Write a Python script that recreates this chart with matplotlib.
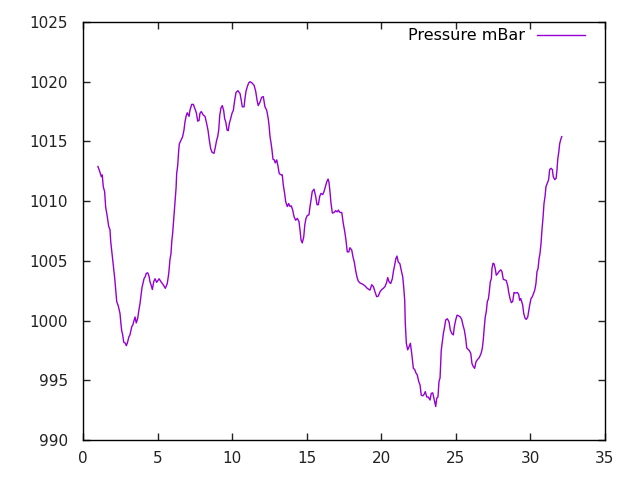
import matplotlib
matplotlib.use("Agg")
import matplotlib.pyplot as plt

# time (days) and pressure (mBar)
days = [1.00, 1.09, 1.23, 1.29, 1.36, 1.45, 1.52, 1.63, 1.72, 1.81, 1.86, 1.92, 1.99,
        2.06, 2.13, 2.19, 2.26, 2.37, 2.48, 2.53, 2.59, 2.66, 2.73, 2.84, 2.90, 2.97,
        3.08, 3.15, 3.27, 3.33, 3.42, 3.49, 3.57, 3.67, 3.75, 3.82, 3.89, 3.96, 4.02,
        4.09, 4.18, 4.24, 4.34, 4.43, 4.49, 4.56, 4.65, 4.74, 4.83, 4.94, 5.10, 5.23,
        5.38, 5.52, 5.65, 5.75, 5.83, 5.90, 5.95, 6.01, 6.10, 6.19, 6.24, 6.28, 6.35,
        6.42, 6.46, 6.57, 6.68, 6.77, 6.84, 6.91, 6.99, 7.11, 7.17, 7.29, 7.40, 7.51,
        7.60, 7.69, 7.78, 7.84, 7.93, 8.07, 8.18, 8.29, 8.38, 8.47, 8.56, 8.65, 8.78,
        8.87, 8.96, 9.03, 9.10, 9.17, 9.25, 9.34, 9.43, 9.50, 9.57, 9.66, 9.74, 9.81,
        9.90, 9.99, 10.08, 10.17, 10.26, 10.39, 10.53, 10.61, 10.68, 10.80, 10.86,
        10.93, 11.02, 11.11, 11.20, 11.33, 11.47, 11.58, 11.67, 11.75, 11.87, 11.98,
        12.09, 12.20, 12.32, 12.42, 12.47, 12.54, 12.61, 12.67, 12.74, 12.83, 12.89,
        12.99, 13.07, 13.16, 13.30, 13.36, 13.43, 13.52, 13.59, 13.70, 13.79, 13.88,
        13.97, 14.06, 14.15, 14.26, 14.37, 14.48, 14.55, 14.62, 14.70, 14.80, 14.87,
        14.95, 15.04, 15.15, 15.22, 15.29, 15.37, 15.49, 15.60, 15.69, 15.78, 15.87,
        15.96, 16.07, 16.16, 16.25, 16.34, 16.43, 16.49, 16.56, 16.63, 16.72, 16.83,
        16.94, 17.05, 17.12, 17.23, 17.35, 17.45, 17.55, 17.63, 17.72, 17.82, 17.90,
        18.02, 18.10, 18.19, 18.28, 18.37, 18.46, 18.57, 18.75, 18.91, 19.06, 19.24,
        19.36, 19.47, 19.58, 19.69, 19.80, 19.91, 20.03, 20.14, 20.25, 20.36, 20.43,
        20.52, 20.63, 20.74, 20.81, 20.90, 20.97, 21.05, 21.14, 21.25, 21.34, 21.44,
        21.50, 21.57, 21.61, 21.68, 21.77, 21.86, 21.95, 22.04, 22.15, 22.24, 22.33,
        22.41, 22.51, 22.60, 22.68, 22.78, 22.86, 22.95, 23.05, 23.15, 23.27, 23.35,
        23.45, 23.53, 23.65, 23.72, 23.80, 23.87, 23.94, 23.98, 24.02, 24.09, 24.16,
        24.23, 24.32, 24.43, 24.54, 24.63, 24.74, 24.83, 24.90, 24.99, 25.08, 25.19,
        25.30, 25.39, 25.48, 25.57, 25.66, 25.73, 25.81, 25.90, 26.00, 26.08, 26.17,
        26.26, 26.35, 26.46, 26.57, 26.69, 26.77, 26.84, 26.91, 26.97, 27.04, 27.11,
        27.18, 27.24, 27.31, 27.38, 27.42, 27.49, 27.56, 27.64, 27.71, 27.81, 27.89,
        28.01, 28.09, 28.18, 28.30, 28.38, 28.48, 28.54, 28.63, 28.72, 28.81, 28.90,
        29.01, 29.12, 29.21, 29.28, 29.35, 29.41, 29.48, 29.55, 29.64, 29.72, 29.82,
        29.88, 29.95, 30.04, 30.13, 30.22, 30.29, 30.37, 30.44, 30.51, 30.58, 30.64,
        30.71, 30.78, 30.84, 30.91, 30.98, 31.04, 31.13, 31.22, 31.29, 31.38, 31.47,
        31.53, 31.63, 31.72, 31.78, 31.83, 31.90, 31.96, 32.03, 32.10]

pressure = [1012.9, 1012.6, 1012.05, 1012.2, 1011.2, 1010.8, 1009.5, 1008.7, 1007.9,
            1007.6, 1006.6, 1005.9, 1005.1, 1004.2, 1003.5, 1002.6, 1001.6, 1001.2,
            1000.6, 999.9, 999.2, 998.8, 998.2, 998.1, 997.9, 998.1, 998.65, 998.8,
            999.5, 999.6, 1000.0, 1000.3, 999.8, 1000.2, 1000.9, 1001.4, 1002.1,
            1002.8, 1003.1, 1003.5, 1003.7, 1003.95, 1004.0, 1003.7, 1003.25, 1003.0,
            1002.6, 1003.25, 1003.5, 1003.2, 1003.5, 1003.25, 1003.0, 1002.7, 1003.1,
            1003.95, 1005.1, 1005.6, 1006.6, 1007.3, 1008.8, 1010.2, 1011.1, 1012.3,
            1013.0, 1014.3, 1014.8, 1015.1, 1015.4, 1015.95, 1016.65, 1017.1, 1017.4,
            1017.1, 1017.6, 1018.1, 1018.1, 1017.7, 1017.4, 1016.7, 1016.75, 1017.35,
            1017.5, 1017.2, 1017.1, 1016.5, 1015.95, 1015.1, 1014.4, 1014.1, 1014.0,
            1014.5, 1015.1, 1015.4, 1015.95, 1017.2, 1017.8, 1018.0, 1017.6, 1016.9,
            1016.65, 1015.95, 1015.9, 1016.5, 1016.9, 1017.35, 1017.6, 1018.45,
            1019.1, 1019.25, 1019.0, 1018.45, 1017.9, 1017.9, 1018.6, 1019.2, 1019.6,
            1019.9, 1020.0, 1019.9, 1019.7, 1019.2, 1018.45, 1018.0, 1018.3, 1018.7,
            1018.75, 1017.9, 1017.6, 1016.9, 1016.4, 1015.4, 1014.85, 1014.3, 1013.5,
            1013.45, 1013.2, 1013.45, 1012.95, 1012.3, 1012.2, 1012.2, 1011.35,
            1010.65, 1009.95, 1009.55, 1009.8, 1009.55, 1009.6, 1009.25, 1008.7,
            1008.4, 1008.55, 1008.3, 1007.6, 1006.75, 1006.5, 1007.0, 1008.0, 1008.55,
            1008.8, 1008.85, 1009.55, 1010.1, 1010.8, 1011.0, 1010.4, 1009.7, 1009.7,
            1010.4, 1010.65, 1010.55, 1010.8, 1011.2, 1011.6, 1011.85, 1011.6, 1010.8,
            1009.8, 1009.0, 1009.05, 1009.2, 1009.1, 1009.25, 1009.05, 1009.05,
            1008.15, 1007.45, 1006.75, 1005.75, 1005.75, 1006.1, 1005.9, 1005.35,
            1004.9, 1004.2, 1003.65, 1003.3, 1003.15, 1003.05, 1002.9, 1002.7, 1002.55,
            1003.0, 1002.85, 1002.4, 1002.0, 1002.05, 1002.4, 1002.6, 1002.7, 1002.85,
            1003.2, 1003.6, 1003.25, 1003.1, 1003.5, 1004.1, 1004.65, 1005.15, 1005.4,
            1004.9, 1004.75, 1004.2, 1003.65, 1002.85, 1001.7, 999.75, 998.1, 997.55,
            997.8, 998.1, 997.25, 996.0, 995.9, 995.6, 995.45, 994.9, 994.6, 993.75,
            993.7, 993.8, 994.05, 993.6, 993.6, 993.35, 993.9, 993.95, 993.5, 992.8,
            993.5, 993.6, 994.9, 995.2, 996.4, 997.5, 998.2, 998.9, 999.35, 1000.05,
            1000.15, 999.9, 999.2, 998.9, 998.8, 999.5, 1000.05, 1000.45, 1000.4,
            1000.3, 1000.1, 999.6, 999.2, 998.5, 997.7, 997.6, 997.5, 997.25, 996.4,
            996.15, 996.0, 996.55, 996.75, 996.9, 997.25, 997.65, 998.4, 999.5, 1000.3,
            1000.75, 1001.6, 1001.8, 1002.4, 1003.25, 1003.5, 1004.35, 1004.8, 1004.75,
            1004.35, 1003.8, 1003.95, 1004.1, 1004.25, 1004.1, 1003.45, 1003.4,
            1003.35, 1002.9, 1002.4, 1001.85, 1001.5, 1001.6, 1002.35, 1002.3, 1002.35,
            1002.2, 1001.7, 1001.85, 1001.6, 1001.3, 1000.6, 1000.2, 1000.1, 1000.3,
            1000.75, 1001.3, 1001.85, 1002.0, 1002.3, 1002.55, 1003.1, 1004.1, 1004.35,
            1005.2, 1005.6, 1006.45, 1007.7, 1008.55, 1009.8, 1010.4, 1011.2, 1011.5,
            1011.8, 1012.65, 1012.75, 1012.65, 1012.05, 1011.8, 1011.9, 1012.6, 1013.5,
            1014.1, 1014.8, 1015.15, 1015.4]

xticks = [0, 5, 10, 15, 20, 25, 30, 35]
yticks = [990, 995, 1000, 1005, 1010, 1015, 1020, 1025]

plt.rcParams['font.family'] = ['DejaVu Sans']

fig = plt.figure(figsize=(6.4, 4.8), dpi=100)
ax = fig.add_axes([83 / 640, 40 / 480, 522 / 640, 418 / 480])

ax.plot(days, pressure, color='#9400d3', lw=1, label='Pressure mBar')

ax.set_xlim(0, 35)
ax.set_ylim(990, 1025)
ax.set_xticks(xticks)
ax.set_yticks(yticks)
ax.tick_params(direction='in', top=True, right=True, length=5, width=1,
               labelsize=11, colors='#222222')
ax.tick_params(axis='x', pad=8)
ax.tick_params(axis='y', pad=11)
for s in ax.spines.values():
    s.set_linewidth(1)

# legend sits top right, sample line after the text (gnuplot style)
leg = ax.legend(loc='upper right', bbox_to_anchor=(0.962, 0.985), frameon=False,
                markerfirst=False, handlelength=3.0, handletextpad=0.75,
                borderpad=0, borderaxespad=0, fontsize=11.5)

fig.savefig('out.png', dpi=100)
